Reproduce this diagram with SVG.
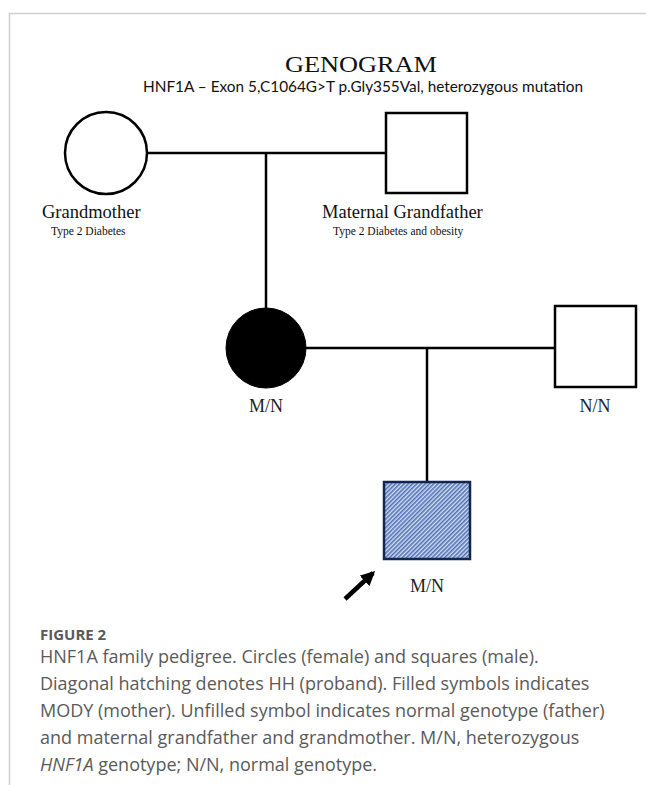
<svg xmlns="http://www.w3.org/2000/svg" width="646" height="785" viewBox="0 0 646 785">
<defs>
<pattern id="hatch" width="3" height="3" patternUnits="userSpaceOnUse" patternTransform="rotate(45)">
<rect width="3" height="3" fill="#d6dff0"/>
<rect width="1.6" height="3" fill="#4f72b8"/>
</pattern>
<marker id="arrowhead" viewBox="0 0 10 10" refX="8" refY="5" markerWidth="3.2" markerHeight="3.2" orient="auto">
<path d="M0,0 L10,5 L0,10 z" fill="#000"/>
</marker>
</defs>
<style>
.sym{fill:#fff;stroke:#000;stroke-width:2.5}
.conn{stroke:#000;stroke-width:2.5;fill:none}
.name{font-family:"Liberation Serif","Times New Roman",serif;font-size:18.5px;fill:#111}
.note{font-family:"Liberation Serif","Times New Roman",serif;font-size:11.5px;fill:#111}
.geno{font-family:"Liberation Serif","Times New Roman",serif;font-size:18px;fill:#222;text-anchor:middle}
.cap{font-family:"Open Sans","Lato",sans-serif;font-size:18px;fill:#5a5a5a}
.border{stroke:#cfcfcf;stroke-width:1.5;fill:none}
</style>
<rect width="646" height="785" fill="#fff"/>
<path class="border" d="M9.5,785 V13.5 H646"/>
<g id="title">
<text x="285" y="72" font-family="Liberation Serif,serif" font-size="23" textLength="152" lengthAdjust="spacingAndGlyphs" fill="#111">GENOGRAM</text>
<text x="143" y="92" font-family="Lato,sans-serif" font-size="16" textLength="440" lengthAdjust="spacingAndGlyphs" fill="#111">HNF1A – Exon 5,C1064G&gt;T p.Gly355Val, heterozygous mutation</text>
</g>
<g id="connectors">
<line class="conn" x1="147" y1="153" x2="386" y2="153"/>
<line class="conn" x1="266" y1="153" x2="266" y2="309"/>
<line class="conn" x1="305" y1="348" x2="555" y2="348"/>
<line class="conn" x1="427" y1="348" x2="427" y2="482"/>
</g>
<g id="grandmother">
<circle class="sym" cx="106" cy="153" r="41"/>
<text class="name" x="42" y="218">Grandmother</text>
<text class="note" x="51" y="235">Type 2 Diabetes</text>
</g>
<g id="grandfather">
<rect class="sym" x="386" y="113" width="81" height="80"/>
<text class="name" x="322" y="218">Maternal Grandfather</text>
<text class="note" x="333" y="235">Type 2 Diabetes and obesity</text>
</g>
<g id="mother">
<circle cx="266" cy="348" r="40" fill="#000" stroke="#000" stroke-width="1"/>
<text class="geno" x="266" y="412">M/N</text>
</g>
<g id="father">
<rect class="sym" x="555" y="306" width="81" height="81"/>
<text class="geno" x="595" y="412">N/N</text>
</g>
<g id="proband">
<rect x="384" y="482" width="86" height="77" fill="url(#hatch)" stroke="#14264f" stroke-width="2.5"/>
<text class="geno" x="427" y="592">M/N</text>
</g>
<g id="arrow">
<line x1="345" y1="599" x2="373" y2="573" stroke="#000" stroke-width="4.5" marker-end="url(#arrowhead)"/>
</g>
<g id="caption">
<text x="40" y="640" font-family="Open Sans,sans-serif" font-size="15" font-weight="bold" fill="#5a5a5a">FIGURE 2</text>
<text class="cap" x="40" y="663">HNF1A family pedigree. Circles (female) and squares (male).</text>
<text class="cap" x="40" y="690">Diagonal hatching denotes HH (proband). Filled symbols indicates</text>
<text class="cap" x="40" y="717">MODY (mother). Unfilled symbol indicates normal genotype (father)</text>
<text class="cap" x="40" y="744">and maternal grandfather and grandmother. M/N, heterozygous</text>
<text class="cap" x="40" y="771"><tspan font-style="italic">HNF1A</tspan> genotype; N/N, normal genotype.</text>
</g>
</svg>
